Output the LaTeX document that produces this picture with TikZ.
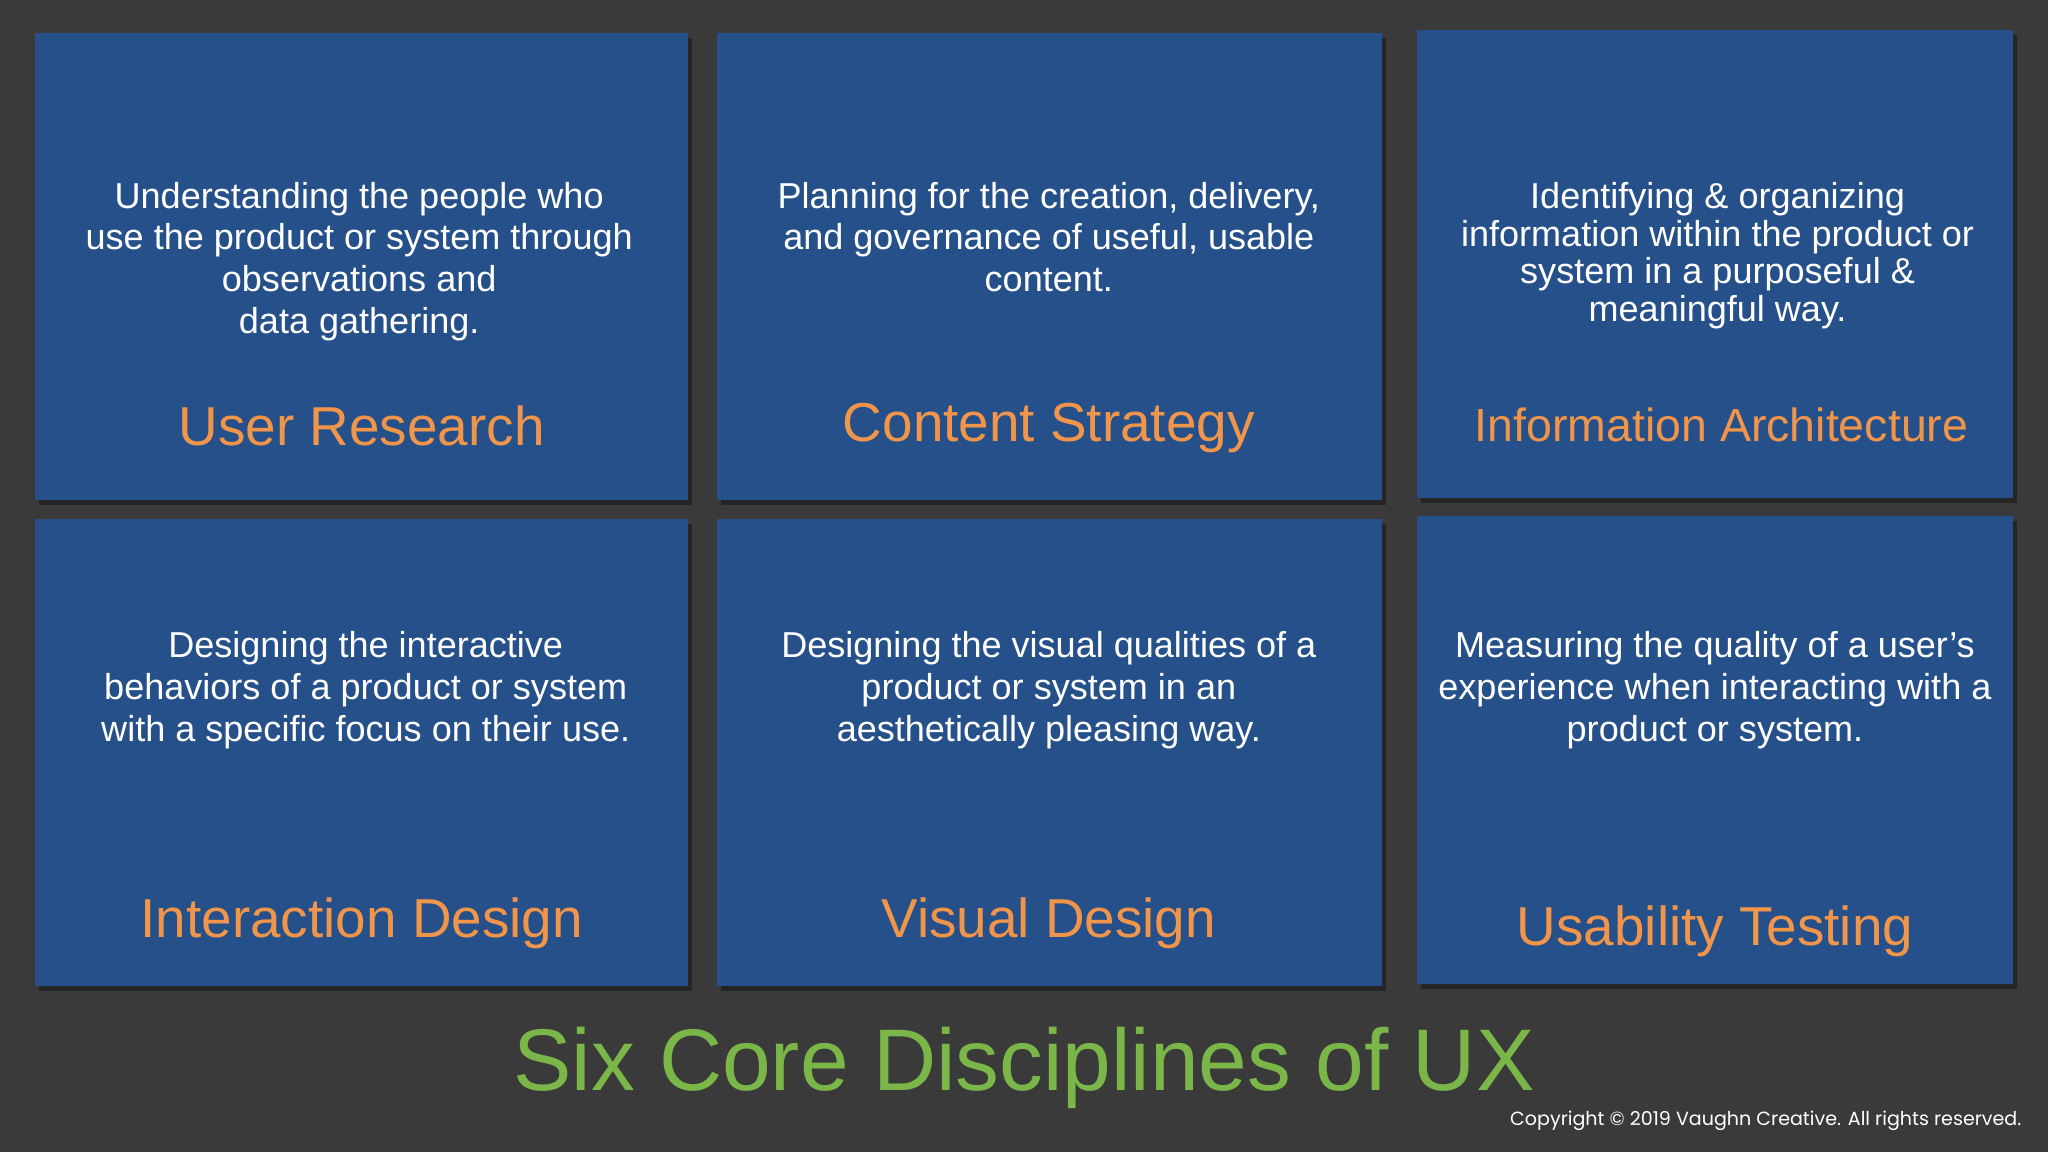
\documentclass[tikz,border=0pt]{standalone}
\usepackage{fontspec}
\setmainfont{Liberation Sans}
\newfontfamily\copyfont{Poppins}
\definecolor{bgc}{HTML}{3A3A3A}
\definecolor{boxc}{HTML}{26508A}
\definecolor{orangec}{HTML}{F0954A}
\definecolor{greenc}{HTML}{7AB648}
\begin{document}
\begin{tikzpicture}[x=0.5pt,y=-0.5pt,
  card/.style={fill=boxc},
  shadowc/.style={fill=black,opacity=0.35},
  body/.style={anchor=north,inner sep=0pt,align=center,text=white,font=\fontsize{13.8}{16}\selectfont},
  bodytight/.style={body,font=\fontsize{13.8}{14.5}\selectfont},
  ttl/.style={anchor=base,inner sep=0pt,text=orangec,font=\fontsize{21}{24}\selectfont}]
\fill[bgc] (0,0) rectangle (1568,882);
\useasboundingbox (0,0) rectangle (1568,882);
\foreach \a/\b/\c/\d in {27/25/527/383, 549/25/1058/383, 1085/23/1541/381, 27/397/527/755, 549/397/1058/755, 1085/395/1541/753}{
  \fill[shadowc] (\a+3,\b+4) rectangle (\c+3,\d+4);
  \fill[card] (\a,\b) rectangle (\c,\d);
}
\node[body] (t1) at (275,139) {Understanding the people who\\use the product or system through\\observations and\\data gathering.};
\node[ttl] (h1) at (277,341) {User Research};
\node[body] (t2) at (803,139) {Planning for the creation, delivery,\\and governance of useful, usable\\content.};
\node[ttl] (h2) at (803,338) {Content Strategy};
\node[bodytight] (t3) at (1315,139) {Identifying \& organizing\\information within the product or\\system in a purposeful \&\\meaningful way.};
\node[ttl,font=\fontsize{17.8}{20}\selectfont] (h3) at (1318,338) {Information Architecture};
\node[body] (t4) at (280,483) {Designing the interactive\\behaviors of a product or system\\with a specific focus on their use.};
\node[ttl] (h4) at (277,718) {Interaction Design};
\node[body] (t5) at (803,483) {Designing the visual qualities of a\\product or system in an\\aesthetically pleasing way.};
\node[ttl] (h5) at (803,718) {Visual Design};
\node[body] (t6) at (1313,483) {Measuring the quality of a user’s\\experience when interacting with a\\product or system.};
\node[ttl] (h6) at (1313,724) {Usability Testing};
\node[anchor=base,inner sep=0pt,text=greenc,font=\fontsize{33.5}{36}\selectfont] (main) at (784,835) {Six Core Disciplines of UX};
\node[anchor=base east,inner sep=0pt,text=white,font=\copyfont\fontsize{7.3}{8}\selectfont] (cp) at (1548,862) {Copyright © 2019 Vaughn Creative. All rights reserved.};
\end{tikzpicture}
\end{document}
